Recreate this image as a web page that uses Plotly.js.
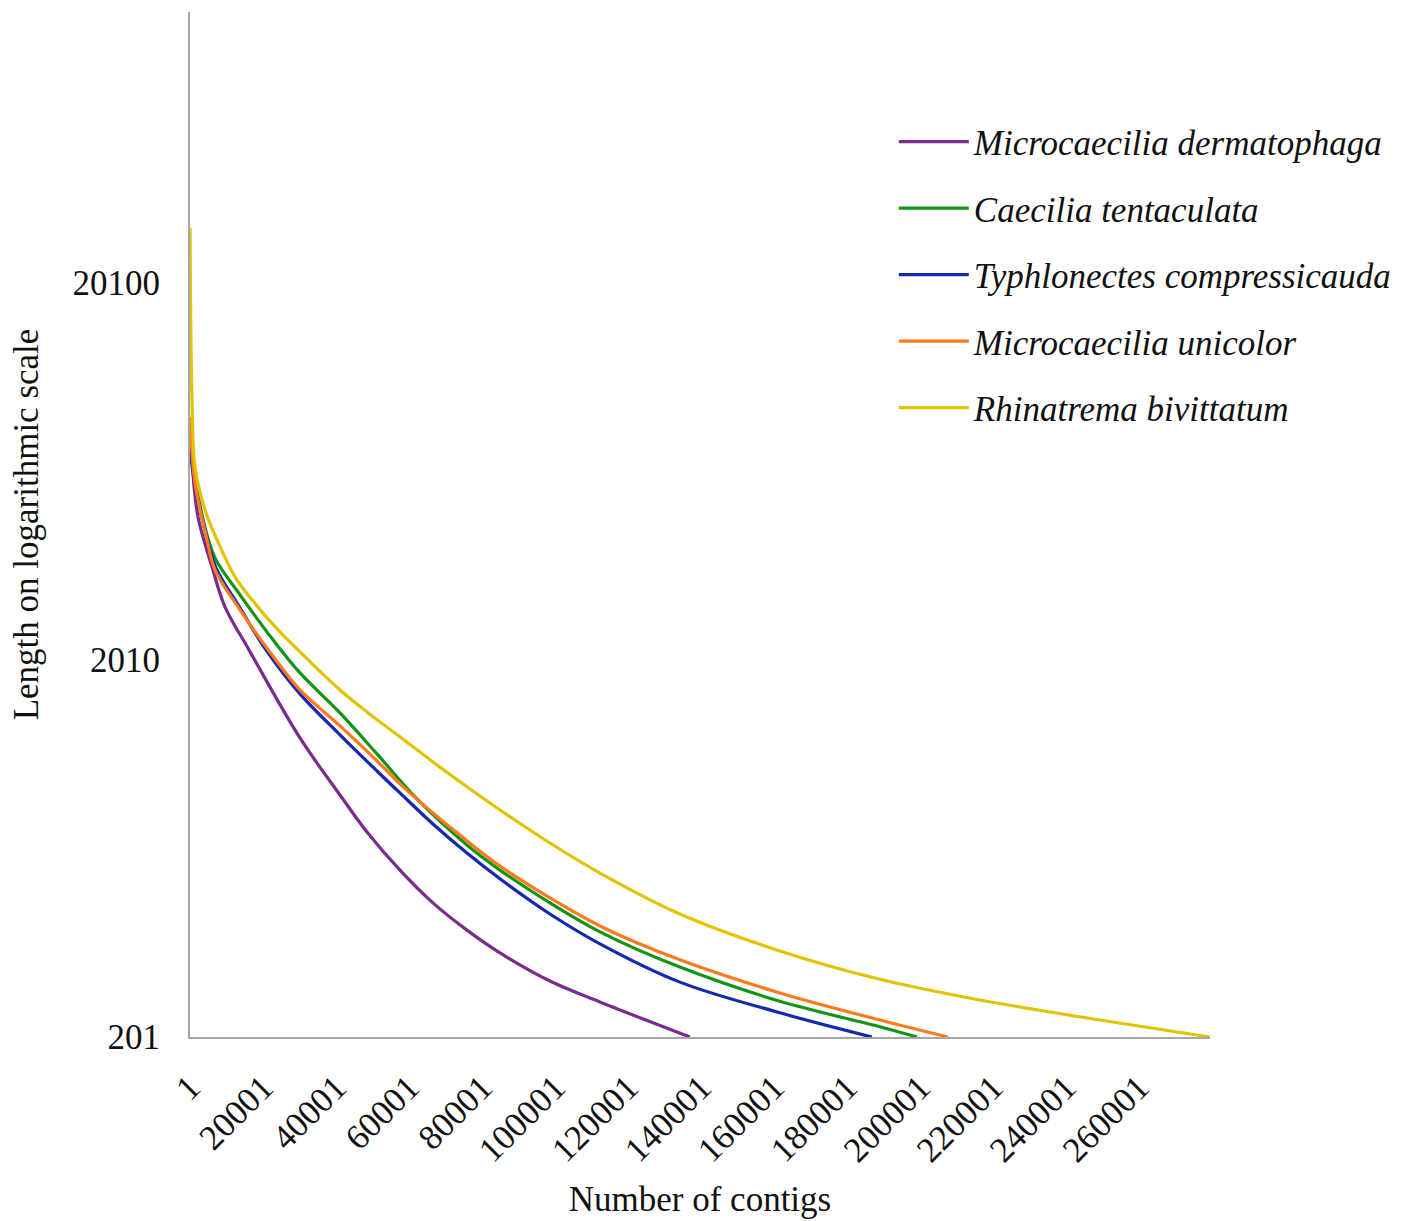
<!DOCTYPE html>
<html>
<head>
<meta charset="utf-8">
<script src="https://cdn.plot.ly/plotly-3.0.1.min.js"></script>
<style>html,body{margin:0;padding:0;background:#fff;}#chart{width:1412px;height:1221px;}</style>
</head>
<body>
<div id="chart"></div>
<script>
// Series names (legend order)
const seriesNames = [
  "Microcaecilia dermatophaga",
  "Caecilia tentaculata",
  "Typhlonectes compressicauda",
  "Microcaecilia unicolor",
  "Rhinatrema bivittatum"
];
const seriesColors = ["#7B2A8E", "#129414", "#1428B0", "#FF7A1A", "#E2C300"];

// Contig rank (x) and contig length (y)
const purpleX = [1, 822, 2192, 6027, 9589, 16164, 30137, 41096, 48493, 57534, 66575, 75890, 84931, 98630, 112329, 136985];
const purpleY = [7849, 6222, 4814, 3547, 2779, 2137, 1248, 881, 703, 557, 456, 386, 336, 283, 249, 201];

const greenX = [1, 1918, 4658, 7123, 13699, 22740, 30137, 41096, 51233, 62192, 75890, 84931, 98630, 112329, 134245, 161642, 189039, 199176];
const greenY = [7472, 5677, 4313, 3702, 2990, 2272, 1856, 1454, 1132, 860, 649, 557, 456, 382, 308, 250, 214, 201];

const blueX = [1, 1644, 4110, 7123, 13699, 20822, 30137, 41096, 51233, 57534, 66575, 75890, 84931, 98630, 112329, 134245, 161642, 186848];
const blueY = [7300, 5677, 4446, 3526, 2762, 2137, 1633, 1272, 1020, 892, 738, 618, 528, 426, 355, 281, 233, 201];

const orangeX = [1, 1370, 4658, 6849, 13699, 22466, 30137, 41096, 51233, 57534, 66575, 75890, 84931, 98630, 112329, 134245, 161642, 189039, 207669];
const orangeY = [8867, 5925, 4183, 3483, 2729, 2073, 1673, 1343, 1085, 943, 789, 666, 571, 470, 396, 322, 263, 223, 201];

const yellowX = [1, 548, 1370, 4110, 7397, 12329, 16986, 24109, 30137, 41096, 48493, 57534, 66575, 75890, 84931, 98630, 112329, 134245, 161642, 189039, 216436, 249313, 279450];
const yellowY = [28124, 9837, 6534, 5024, 4183, 3337, 2900, 2414, 2111, 1673, 1463, 1256, 1078, 926, 804, 657, 547, 426, 340, 286, 252, 223, 201];

const xTicks = [1, 20001, 40001, 60001, 80001, 100001, 120001, 140001, 160001, 180001, 200001, 220001, 240001, 260001];
const yTicks = [201, 2010, 20100];

const xs = [purpleX, greenX, blueX, orangeX, yellowX];
const ys = [purpleY, greenY, blueY, orangeY, yellowY];

const traces = seriesNames.map((n, i) => ({
  type: "scatter",
  mode: "lines",
  name: "<i>" + n + "</i>",
  legendgroup: "g" + i,
  x: xs[i],
  y: ys[i],
  line: {color: seriesColors[i], width: 3.2, shape: "spline", smoothing: 1.0}
}));

const font = "Liberation Serif, Times New Roman, serif";

const layout = {
  width: 1412,
  height: 1221,
  margin: {l: 190, r: 202, t: 12, b: 184},
  paper_bgcolor: "#fff",
  plot_bgcolor: "#fff",
  font: {family: font, size: 35, color: "#111"},
  showlegend: true,
  legend: {
    x: 0.69, y: 0.902, xanchor: "left", yanchor: "top",
    font: {family: font, size: 35, color: "#111"},
    tracegroupgap: 18,
    itemwidth: 70,
    traceorder: "grouped",
    bgcolor: "rgba(0,0,0,0)"
  },
  xaxis: {
    range: [1, 279500],
    tickmode: "array",
    tickvals: xTicks,
    ticktext: xTicks.map(String),
    tickangle: -45,
    ticks: "",
    showgrid: false,
    zeroline: false,
    showline: true,
    linecolor: "#a6a6a6",
    linewidth: 2,
    ticklabelstandoff: 14,
    tickfont: {family: font, size: 35, color: "#111"},
    title: {text: "Number of contigs", font: {family: font, size: 35, color: "#111"}, standoff: 18}
  },
  yaxis: {
    type: "log",
    range: [Math.log10(201), Math.log10(105000)],
    tickmode: "array",
    tickvals: yTicks,
    ticktext: yTicks.map(String),
    ticks: "",
    showgrid: false,
    zeroline: false,
    showline: true,
    linecolor: "#a6a6a6",
    linewidth: 2,
    ticklabelstandoff: 21,
    tickfont: {family: font, size: 35, color: "#111"},
    title: {text: "Length on logarithmic scale", font: {family: font, size: 35, color: "#111"}, standoff: 23}
  }
};

Plotly.newPlot("chart", traces, layout, {displayModeBar: false, staticPlot: true});
</script>
</body>
</html>
